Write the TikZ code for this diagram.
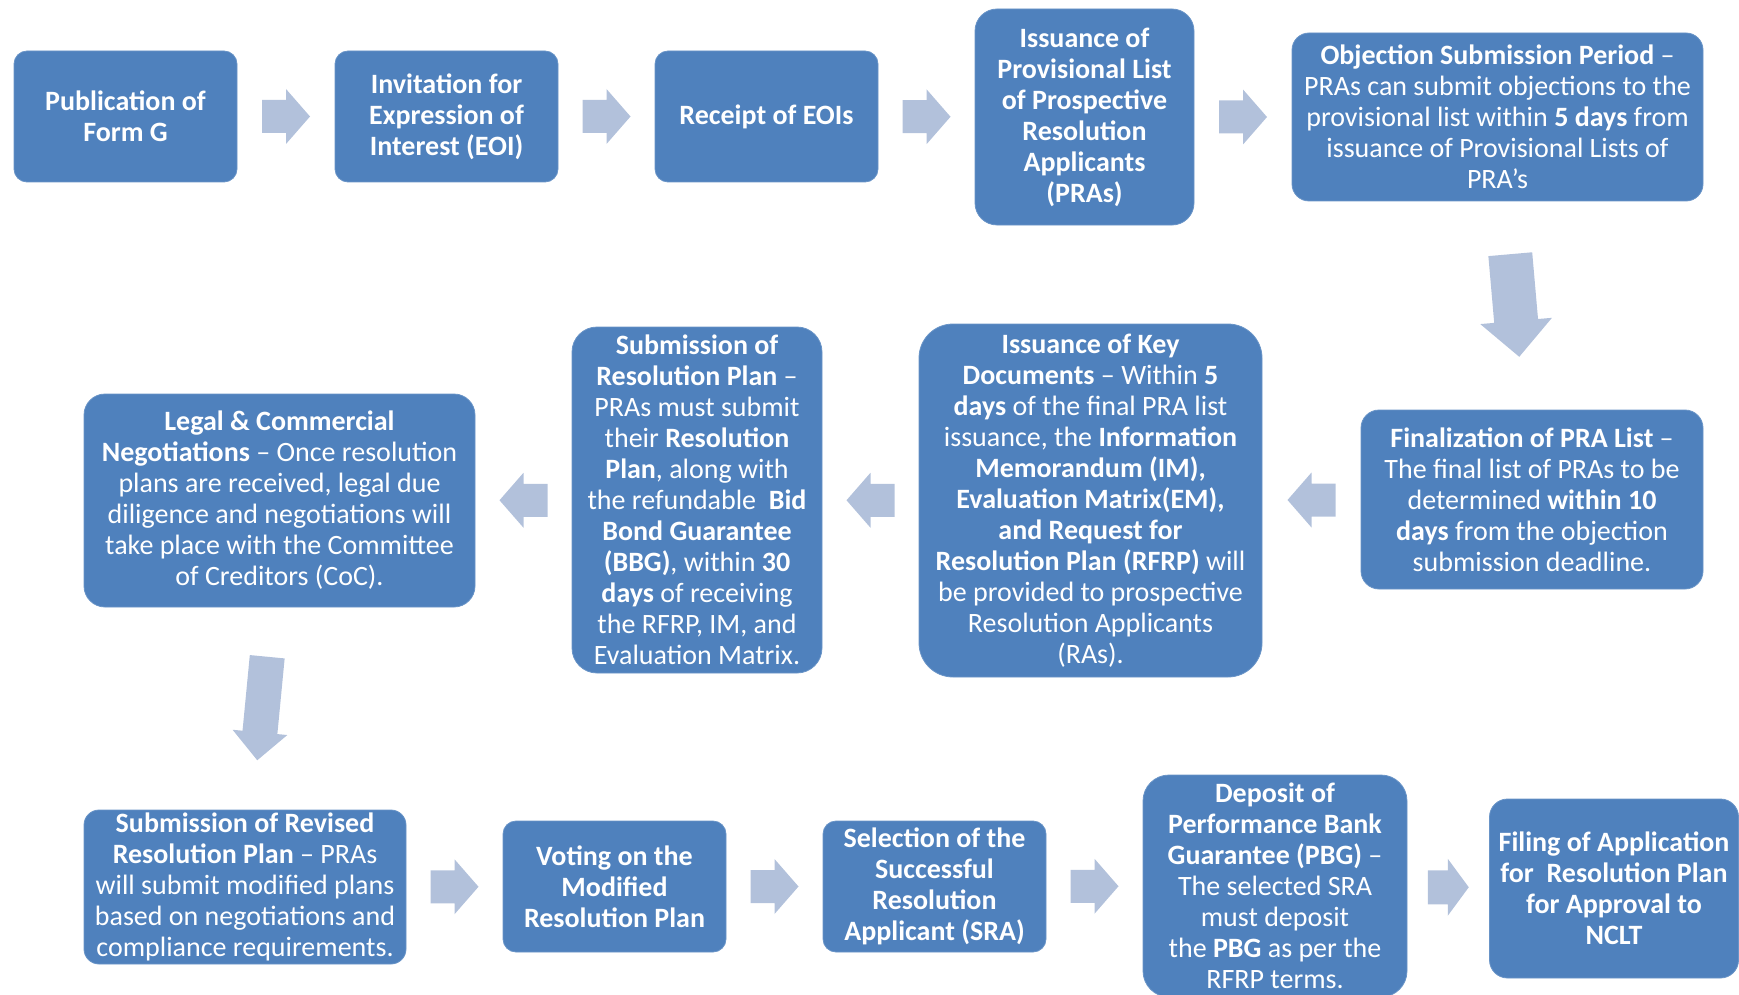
\documentclass[tikz,border=0pt]{standalone}
\usepackage{fontspec}
\setmainfont{Carlito}
\usetikzlibrary{calc}
\definecolor{boxc}{HTML}{4F81BD}
\definecolor{arrowc}{RGB}{178,193,219}
\tikzset{
  box/.style={fill=boxc, draw=boxc!85!white, line width=0.8pt, text=white, align=center, inner sep=0pt,
    font=\fontsize{28}{31}\selectfont},
  pics/barrow/.style n args={4}{code={
    \fill[arrowc] (-#1/2,-#2/2) -- (#1/2-#4,-#2/2) -- (#1/2-#4,-#3/2) -- (#1/2,0)
      -- (#1/2-#4,#3/2) -- (#1/2-#4,#2/2) -- (-#1/2,#2/2) -- cycle;}}
}
\begin{document}
\begin{tikzpicture}[x=1pt,y=1pt]
\useasboundingbox (0,0) rectangle (1739,-995);
% row 1
\node[box, minimum width=223, minimum height=131, rounded corners=13] (b1) at (125.5,-116.5)
  {\textbf{Publication of}\\\textbf{Form G}};
\node[box, minimum width=223, minimum height=131, rounded corners=13] (b2) at (446.5,-116.5)
  {\textbf{Invitation for}\\\textbf{Expression of}\\\textbf{Interest (EOI)}};
\node[box, minimum width=223, minimum height=131, rounded corners=13] (b3) at (766.5,-116.5)
  {\textbf{Receipt of EOIs}};
\node[box, minimum width=219, minimum height=216, rounded corners=22] (b4) at (1084.5,-117)
  {\textbf{Issuance of}\\\textbf{Provisional List}\\\textbf{of Prospective}\\\textbf{Resolution}\\\textbf{Applicants}\\\textbf{(PRAs)}};
\node[box, minimum width=411, minimum height=168, rounded corners=17] (b5) at (1497.5,-117)
  {\textbf{Objection Submission Period} –\\PRAs can submit objections to the\\provisional list within \textbf{5 days} from\\issuance of Provisional Lists of\\PRA’s};
% row 2
\node[box, minimum width=342, minimum height=179, rounded corners=18] (b6) at (1532,-499.5)
  {\textbf{Finalization of PRA List} –\\The final list of PRAs to be\\determined \textbf{within 10}\\\textbf{days} from the objection\\submission deadline.};
\node[box, minimum width=343, minimum height=353, rounded corners=34] (b7) at (1090.5,-500.5)
  {\textbf{Issuance of Key}\\\textbf{Documents} – Within \textbf{5}\\\textbf{days} of the final PRA list\\issuance, the \textbf{Information}\\\textbf{Memorandum (IM),}\\\textbf{Evaluation Matrix(EM),}\\\textbf{and Request for}\\\textbf{Resolution Plan (RFRP)} will\\be provided to prospective\\Resolution Applicants\\(RAs).};
\node[box, minimum width=250, minimum height=346, rounded corners=25] (b8) at (697,-500)
  {\textbf{Submission of}\\\textbf{Resolution Plan} –\\PRAs must submit\\their \textbf{Resolution}\\\textbf{Plan}, along with\\the refundable \ \textbf{Bid}\\\textbf{Bond Guarantee}\\\textbf{(BBG)}, within \textbf{30}\\\textbf{days} of receiving\\the RFRP, IM, and\\Evaluation Matrix.};
\node[box, minimum width=391, minimum height=213, rounded corners=21] (b9) at (279.5,-500.5)
  {\textbf{Legal \& Commercial}\\\textbf{Negotiations} – Once resolution\\plans are received, legal due\\diligence and negotiations will\\take place with the Committee\\of Creditors (CoC).};
% row 3
\node[box, minimum width=322, minimum height=154, rounded corners=15] (b10) at (245,-887)
  {\textbf{Submission of Revised}\\\textbf{Resolution Plan} – PRAs\\will submit modified plans\\based on negotiations and\\compliance requirements.};
\node[box, minimum width=223, minimum height=131, rounded corners=13] (b11) at (614.5,-886.5)
  {\textbf{Voting on the}\\\textbf{Modified}\\\textbf{Resolution Plan}};
\node[box, minimum width=223, minimum height=131, rounded corners=13] (b12) at (934.5,-886.5)
  {\textbf{Selection of the}\\\textbf{Successful}\\\textbf{Resolution}\\\textbf{Applicant (SRA)}};
\node[box, minimum width=264, minimum height=222, rounded corners=26] (b13) at (1275,-886)
  {\textbf{Deposit of}\\\textbf{Performance Bank}\\\textbf{Guarantee (PBG)} –\\The selected SRA\\must deposit\\the \textbf{PBG} as per the\\RFRP terms.};
\node[box, minimum width=249, minimum height=179, rounded corners=18] (b14) at (1614,-888.5)
  {\textbf{Filing of Application}\\\textbf{for \ Resolution Plan}\\\textbf{for Approval to}\\\textbf{NCLT}};
% connectors (block arrows)
\pic at ($(b1.east)!0.5!(b2.west)$) {barrow={48}{33}{55}{24}};
\pic at ($(b2.east)!0.5!(b3.west)$) {barrow={48}{33}{55}{24}};
\pic at ($(b3.east)!0.5!(b4.west)$) {barrow={48}{33}{55}{24}};
\pic at ($(b4.east)!0.5!(b5.west)$) {barrow={48}{33}{55}{24}};
\pic[rotate=-85] at ($(b5.south)!0.5!(b6.north)$) {barrow={103}{44}{72}{36}};
\pic[rotate=180] at ($(b6.west)!0.5!(b7.east)$) {barrow={48}{33}{55}{24}};
\pic[rotate=180] at ($(b7.west)!0.5!(b8.east)$) {barrow={48}{33}{55}{24}};
\pic[rotate=180] at ($(b8.west)!0.5!(b9.east)$) {barrow={48}{33}{55}{24}};
\pic[rotate=-95.5] at ($(b9.south)!0.5!(b10.north)$) {barrow={104}{35}{55}{28}};
\pic at ($(b10.east)!0.5!(b11.west)$) {barrow={48}{33}{55}{24}};
\pic at ($(b11.east)!0.5!(b12.west)$) {barrow={48}{33}{55}{24}};
\pic at ($(b12.east)!0.5!(b13.west)$) {barrow={48}{33}{55}{24}};
\pic at ($(b13.east)!0.5!(b14.west)$) {barrow={41}{34}{57}{21}};
\end{tikzpicture}
\end{document}
